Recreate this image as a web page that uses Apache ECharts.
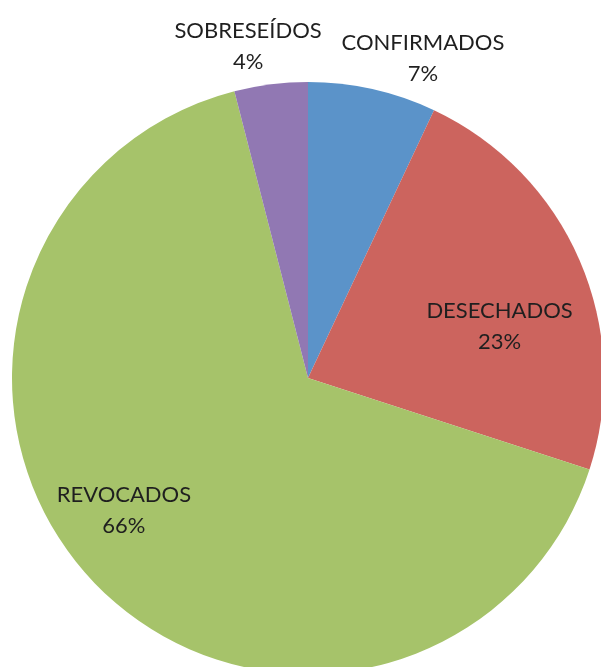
<!DOCTYPE html>
<html>
<head>
<meta charset="utf-8">
<script src="https://cdn.jsdelivr.net/npm/echarts@6/dist/echarts.min.js"></script>
<style>
  html, body { margin: 0; padding: 0; background: #fff; }
  #chart { width: 601px; height: 667px; }
</style>
</head>
<body>
<div id="chart"></div>
<script>
// datos del grafico
var categorias = ['CONFIRMADOS', 'DESECHADOS', 'REVOCADOS', 'SOBRESEÍDOS'];
var valores = [7, 23, 66, 4];
var colores = ['#5b93c9', '#cc645e', '#a6c36a', '#9178b3'];

// desplazamiento de cada etiqueta respecto a su posicion "inside"
var desplaz = [[82, -172], [53, 8], [-74, 29], [-41, -182]];

var chart = echarts.init(document.getElementById('chart'));

var datos = categorias.map(function (nombre, i) {
  return { name: nombre, value: valores[i], itemStyle: { color: colores[i] } };
});

var option = {
  animation: false,
  series: [
    {
      type: 'pie',
      center: [308, 378],
      radius: 296,
      startAngle: 90,
      clockwise: true,
      data: datos,
      itemStyle: { borderColor: '#fff', borderWidth: 0 },
      label: {
        position: 'inside',
        formatter: function (p) {
          return p.name + '\n' + Math.round(p.percent) + '%';
        },
        fontFamily: 'Lato',
        fontSize: 22,
        lineHeight: 31,
        color: '#1f1f1f',
        align: 'center'
      },
      labelLine: { show: false },
      labelLayout: function (params) {
        var d = desplaz[params.dataIndex];
        return { dx: d[0], dy: d[1] };
      }
    }
  ]
};

chart.setOption(option);
</script>
</body>
</html>
